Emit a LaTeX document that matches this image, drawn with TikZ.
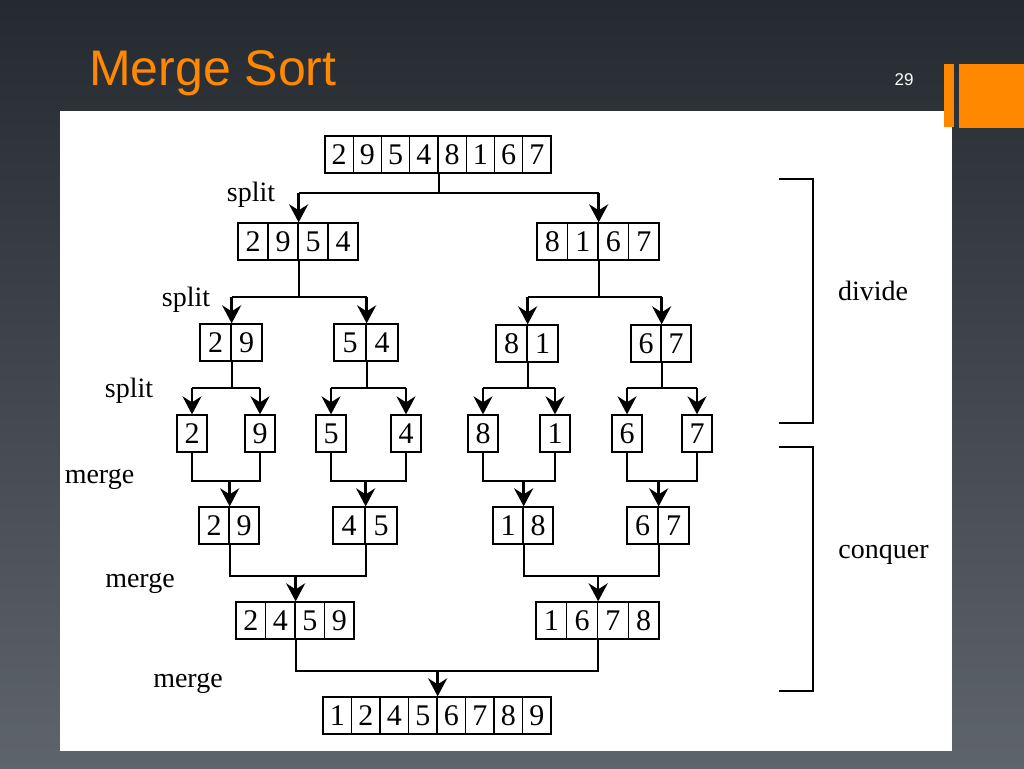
\documentclass[tikz,border=0pt]{standalone}
\usepackage{fontspec}
\setmainfont{Liberation Serif}
\newfontfamily\titlefont{Liberation Sans}
\usetikzlibrary{calc,arrows.meta}
\definecolor{bgtop}{RGB}{37,42,49}
\definecolor{bgmid}{RGB}{44,50,57}
\definecolor{bgbot}{RGB}{94,100,108}
\definecolor{slideorange}{RGB}{255,136,0}
\tikzset{
  cell/.style={draw,line width=1.3pt,inner sep=0pt,minimum height=37pt,font=\fontsize{30}{30}\selectfont},
  lbl/.style={anchor=base,inner sep=0pt,font=\fontsize{28}{28}\selectfont},
  link/.style={line width=2pt},
  arr/.style={line width=2.6pt,-{Stealth[length=18pt,width=19pt,inset=6pt]}}
}
\begin{document}
\begin{tikzpicture}[x=1pt,y=-1pt]
\useasboundingbox (0,0) rectangle (1024,768);
\shade[top color=bgtop,middle color=bgmid,bottom color=bgbot] (0,0) rectangle (1024,768);
\fill[white] (60,111) rectangle (952,751);
\fill[slideorange] (944,64) rectangle (954,127);
\fill[slideorange] (959,64) rectangle (1024,128);
\node[anchor=base west,inner sep=0pt,text=slideorange,font=\titlefont\fontsize{50}{50}\selectfont] (title) at (89,85) {Merge Sort};
\node[anchor=base,inner sep=0pt,text=white,font=\titlefont\fontsize{17}{17}\selectfont] (pagenum) at (904,85) {29};

\foreach \name/\x/\y/\w/\digits in {
  a/325/136/28.25/{2,9,5,4,8,1,6,7},
  b1/238/223/30/{2,9,5,4}, b2/537/223/30.5/{8,1,6,7},
  c1/200/324/31/{2,9}, c2/334/324/32/{5,4}, c3/496/325/31/{8,1}, c4/631/325/30/{6,7},
  d1/177/415/30/{2}, d2/245/415/30/{9}, d3/316/415/30/{5}, d4/391/415/30/{4},
  d5/468/415/30/{8}, d6/540/415/30/{1}, d7/612/415/30/{6}, d8/682/415/30/{7},
  e1/199/507/30/{2,9}, e2/333/507/32/{4,5}, e3/493/507/30/{1,8}, e4/627/507/31/{6,7},
  f1/236/602/29.5/{2,4,5,9}, f2/536/602/30.75/{1,6,7,8},
  g/323/697/28.5/{1,2,4,5,6,7,8,9}}
  \foreach \d [count=\i] in \digits
    \node[cell,minimum width=\w pt] (\name-\i) at (\x+\i*\w-\w/2,\y+18.5) {\d};

\foreach \p/\l/\r/\y [count=\k] in {
  a-4.south east/b1-2.north east/b2-2.north east/193,
  b1-2.south east/c1-1.north east/c2-1.north east/297,
  b2-2.south east/c3-1.north east/c4-1.north east/297,
  c1-1.south east/d1-1.north/d2-1.north/388,
  c2-1.south east/d3-1.north/d4-1.north/388,
  c3-1.south east/d5-1.north/d6-1.north/388,
  c4-1.south east/d7-1.north/d8-1.north/388}{
  \coordinate (s\k) at (\p |- 0,\y);
  \coordinate (sl\k) at (\l |- 0,\y);
  \coordinate (sr\k) at (\r |- 0,\y);
  \draw[link] (\p) -- (s\k);
  \draw[link] (sl\k) -- (sr\k);
  \draw[arr] (sl\k) -- (\l);
  \draw[arr] (sr\k) -- (\r);
}

\foreach \l/\r/\c/\y [count=\k] in {
  d1-1.south/d2-1.south/e1-1.north east/481,
  d3-1.south/d4-1.south/e2-1.north east/481,
  d5-1.south/d6-1.south/e3-1.north east/481,
  d7-1.south/d8-1.south/e4-1.north east/481,
  e1-1.south east/e2-1.south east/f1-2.north east/576,
  e3-1.south east/e4-1.south east/f2-2.north east/576,
  f1-2.south east/f2-2.south east/g-4.north east/671}{
  \coordinate (m\k) at (\c |- 0,\y);
  \draw[link] (\l) |- (m\k) -| (\r);
  \draw[arr] (m\k) -- (\c);
}

\draw[link] (779,179) -| (813,423) -- (779,423);
\draw[link] (779,447) -| (813,691) -- (779,691);

\node[lbl] (split1) at (251,201) {split};
\node[lbl] (split2) at (186,306) {split};
\node[lbl] (split3) at (129,397) {split};
\node[lbl] (merge1) at (99.5,483) {merge};
\node[lbl] (merge2) at (140,587) {merge};
\node[lbl] (merge3) at (188,687) {merge};
\node[lbl] (divide) at (873,300) {divide};
\node[lbl] (conquer) at (883.5,558) {conquer};
\end{tikzpicture}
\end{document}
